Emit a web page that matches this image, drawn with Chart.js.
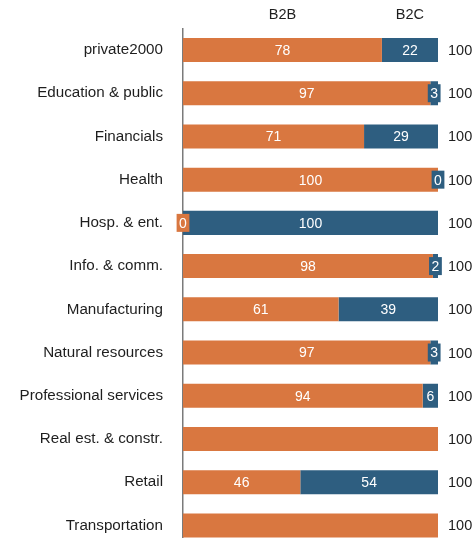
<!DOCTYPE html>
<html><head><meta charset="utf-8">
<script src="https://cdn.jsdelivr.net/npm/chart.js@4/dist/chart.umd.min.js"></script>
<style>html,body{margin:0;padding:0;background:#fff;overflow:hidden}canvas{display:block}</style>
</head><body><canvas id="c" width="475" height="547" style="width:475px;height:547px"></canvas>
<script>
const categories = ['private2000','Education & public','Financials','Health','Hosp. & ent.','Info. & comm.','Manufacturing','Natural resources','Professional services','Real est. & constr.','Retail','Transportation'];
const seriesNames = ['B2B','B2C'];
const b2b = [78,97,71,100,0,98,61,97,94,100,46,100];
const b2c = [22,3,29,0,100,2,39,3,6,null,54,null];
const b2bLabels = ['78','97','71','100','0','98','61','97','94',null,'46',null];
const b2cLabels = ['22','3','29','0','100','2','39','3','6',null,'54',null];
const totals = ['100','100','100','100','100','100','100','100','100','100','100','100'];

const ORANGE = 'rgb(217,119,64)';
const BLUE = 'rgb(46,94,128)';
const FONT = '"Liberation Sans", Arial, sans-serif';
const labelSets = [b2bLabels, b2cLabels];

const labelPlugin = {
  id: 'labels',
  afterDatasetsDraw(chart) {
    const ctx = chart.ctx;
    ctx.save();
    ctx.font = '14px ' + FONT;
    ctx.textBaseline = 'middle';
    ctx.textAlign = 'center';
    chart.data.datasets.forEach((ds, di) => {
      const meta = chart.getDatasetMeta(di);
      meta.data.forEach((el, i) => {
        const txt = labelSets[di][i];
        if (txt == null) return;
        const cx = (el.x + el.base) / 2;
        const w = Math.abs(el.x - el.base);
        const tw = ctx.measureText(txt).width;
        if (tw + 4 > w) {
          ctx.fillStyle = ds.backgroundColor;
          ctx.fillRect(cx - (tw + 5) / 2, el.y - 9, tw + 5, 18);
        }
        ctx.fillStyle = '#ffffff';
        ctx.fillText(txt, cx, el.y + 1);
      });
    });
    ctx.fillStyle = '#1e1e1e';
    ctx.font = '14.5px ' + FONT;
    chart.data.datasets.forEach((ds, di) => {
      const el = chart.getDatasetMeta(di).data[0];
      ctx.fillText(ds.label, (el.x + el.base) / 2, 15);
    });
    ctx.textAlign = 'left';
    const m0 = chart.getDatasetMeta(0);
    m0.data.forEach((el, i) => {
      ctx.fillText(totals[i], chart.chartArea.right + 10, el.y + 1);
    });
    ctx.restore();
  }
};

new Chart(document.getElementById('c'), {
  type: 'bar',
  data: {
    labels: categories,
    datasets: [
      { label: seriesNames[0], data: b2b, backgroundColor: ORANGE, borderWidth: 0, categoryPercentage: 1, barPercentage: 0.556 },
      { label: seriesNames[1], data: b2c, backgroundColor: BLUE, borderWidth: 0, categoryPercentage: 1, barPercentage: 0.556 }
    ]
  },
  options: {
    indexAxis: 'y',
    responsive: false,
    devicePixelRatio: 1,
    animation: false,
    layout: { padding: { top: 28.4, right: 37, left: 0, bottom: 0 } },
    plugins: { legend: { display: false }, tooltip: { enabled: false } },
    scales: {
      x: { stacked: true, min: 0, max: 100, display: false },
      y: {
        stacked: true,
        grid: { display: false, drawTicks: false },
        border: { display: true, color: '#7a7a7a', width: 1.5 },
        ticks: { padding: 20, color: '#1e1e1e', font: { size: 15.2, family: FONT } },
        afterFit(s) { s.width = 183; s.paddingTop = 0; s.paddingBottom = 0; }
      }
    }
  },
  plugins: [labelPlugin]
});
</script>
</body></html>
